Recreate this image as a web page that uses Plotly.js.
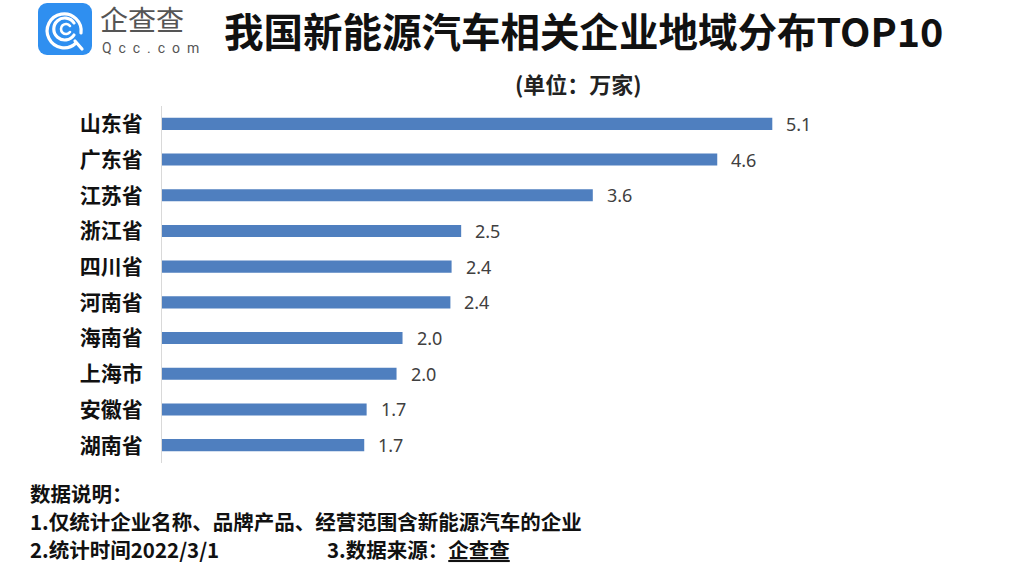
<!DOCTYPE html>
<html>
<head>
<meta charset="utf-8">
<script src="https://cdn.plot.ly/plotly-3.0.1.min.js"></script>
<style>
  html, body { margin: 0; padding: 0; background: #fff; }
  #plot { width: 1014px; height: 569px; }
</style>
</head>
<body>
<div id="plot"></div>
<script>
// provinces, top to bottom
var provinces = ['山东省', '广东省', '江苏省', '浙江省', '四川省', '河南省', '海南省', '上海市', '安徽省', '湖南省'];
// enterprises, 万家
var counts = [5.1, 4.64, 3.6, 2.5, 2.42, 2.41, 2.01, 1.96, 1.71, 1.69];

var footLines = [
  '数据说明：',
  '1.仅统计企业名称、品牌产品、经营范围含新能源汽车的企业',
  '2.统计时间2022/3/1'
];
var sourceText = '3.数据来源：<u>企查查</u>';

var W = 1014, H = 569;
var mar = {l: 162, r: 134, t: 106, b: 106};
var pw = W - mar.l - mar.r, ph = H - mar.t - mar.b;
function px(x) { return (x - mar.l) / pw; }
function py(y) { return (H - mar.b - y) / ph; }

var cjk = '"Noto Sans CJK SC", "Microsoft YaHei", sans-serif';

var trace = {
  type: 'bar',
  orientation: 'h',
  x: counts,
  y: provinces,
  width: 0.34,
  marker: {color: '#4f7fbf'},
  hoverinfo: 'none'
};

var notes = counts.map(function (v, i) {
  return {
    x: v, y: provinces[i], xref: 'x', yref: 'y',
    text: v.toFixed(1), showarrow: false,
    xanchor: 'left', xshift: 12,
    font: {family: '"Noto Sans", ' + cjk, size: 18, color: '#404040'}
  };
});

notes.push({
  xref: 'paper', yref: 'paper', x: px(222), y: py(29),
  xanchor: 'left', yanchor: 'middle', showarrow: false,
  text: '我国新能源汽车相关企业地域分布TOP10',
  font: {family: cjk, size: 39.5, color: '#111', weight: 'bold'}
});
notes.push({
  xref: 'paper', yref: 'paper', x: px(578), y: py(83),
  xanchor: 'center', yanchor: 'middle', showarrow: false,
  text: '(单位：万家)',
  font: {family: cjk, size: 22, color: '#222', weight: 'bold'}
});
notes.push({
  xref: 'paper', yref: 'paper', x: px(99), y: py(19),
  xanchor: 'left', yanchor: 'middle', showarrow: false, borderpad: 0,
  text: '企查查',
  font: {family: cjk, size: 28, color: '#555'}
});
notes.push({
  xref: 'paper', yref: 'paper', x: px(101), y: py(48),
  xanchor: 'left', yanchor: 'middle', showarrow: false, borderpad: 0,
  text: 'Q  c  c  .  c  o  m',
  font: {family: 'Roboto, sans-serif', size: 14, color: '#555'}
});

var footY = [493, 521, 549];
footLines.forEach(function (t, i) {
  notes.push({
    xref: 'paper', yref: 'paper', x: px(29), y: py(footY[i]),
    xanchor: 'left', yanchor: 'middle', showarrow: false, borderpad: 0,
    text: t,
    font: {family: cjk, size: 20.5, color: '#111', weight: 'bold'}
  });
});
notes.push({
  xref: 'paper', yref: 'paper', x: px(326), y: py(549),
  xanchor: 'left', yanchor: 'middle', showarrow: false, borderpad: 0,
  text: sourceText,
  font: {family: cjk, size: 20.5, color: '#111', weight: 'bold'}
});

// logo icon
var logoSvg = '<svg xmlns="http://www.w3.org/2000/svg" width="54" height="52" viewBox="0 0 54 52">' +
  '<rect x="0" y="0" width="54" height="52" rx="9" ry="9" fill="#2f8ff0"/>' +
  '<path d="M38 40 A17 17 0 1 1 43 30" fill="none" stroke="#fff" stroke-width="3.2" stroke-linecap="round"/>' +
  '<path d="M36 20 A11 11 0 1 0 36 32" fill="none" stroke="#fff" stroke-width="3.2" stroke-linecap="round"/>' +
  '<path d="M32 23 A5 5 0 1 0 32 29" fill="none" stroke="#fff" stroke-width="2.6" stroke-linecap="round"/>' +
  '<path d="M37 38 L44 46" stroke="#fff" stroke-width="3.2" stroke-linecap="round"/>' +
  '</svg>';

var layout = {
  width: W, height: H,
  margin: mar,
  paper_bgcolor: '#fff', plot_bgcolor: '#fff',
  showlegend: false,
  xaxis: {range: [0, 6], visible: false, fixedrange: true},
  yaxis: {
    autorange: 'reversed',
    showline: true, linecolor: '#d9d9d9', linewidth: 1,
    showgrid: false, zeroline: false, ticks: '',
    ticklabelstandoff: 14,
    tickfont: {family: cjk, size: 21, color: '#111', weight: 'bold'},
    fixedrange: true
  },
  annotations: notes,
  images: [{
    source: 'data:image/svg+xml;charset=utf-8,' + encodeURIComponent(logoSvg),
    xref: 'paper', yref: 'paper',
    x: px(38), y: py(3),
    sizex: 54 / pw, sizey: 52 / ph,
    xanchor: 'left', yanchor: 'top', sizing: 'stretch', layer: 'above'
  }]
};

Plotly.newPlot('plot', [trace], layout, {displayModeBar: false, staticPlot: true});
</script>
</body>
</html>
